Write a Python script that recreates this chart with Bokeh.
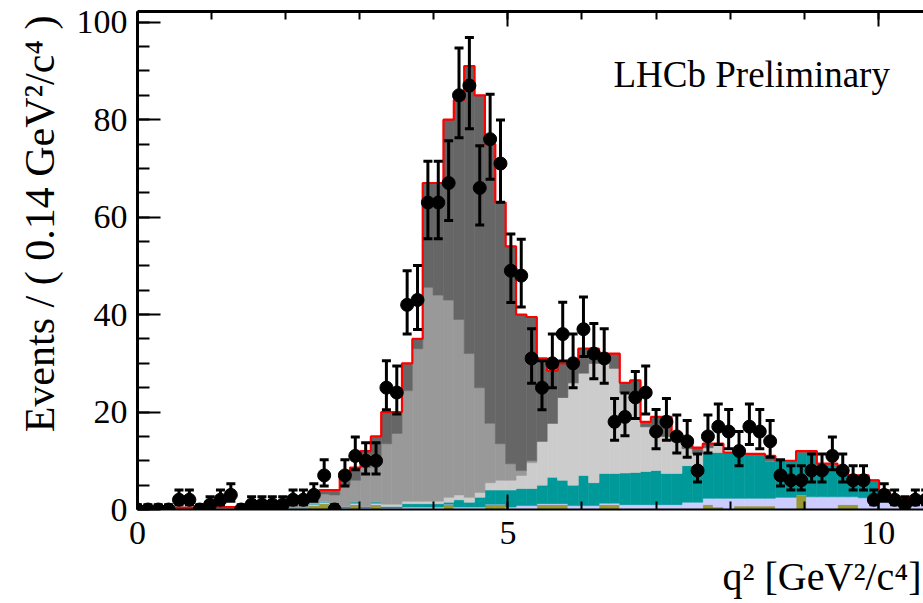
import numpy as np
from bokeh.plotting import figure
from bokeh.models import Range1d, LinearAxis, SingleIntervalTicker, Label, Title, ColumnDataSource
from bokeh.embed import file_html
from bokeh.resources import INLINE

# ---------------- data ----------------
bin_width = 0.14          # GeV^2/c^4
n_bins = 77

data_counts = [0, 0, 0, 0, 2, 2, 0, 1, 2, 3,
               0, 1, 1, 1, 1, 2, 2, 3, 7, 0,
               7, 11, 10, 10, 25, 24, 42, 43, 63, 63,
               67, 85, 87, 66, 76, 71, 49, 48, 31, 25,
               30, 36, 30, 37, 32, 31, 18, 19, 23, 24,
               16, 18, 15, 14, 8, 15, 17, 16, 12, 17,
               16, 14, 7, 6, 6, 8, 8, 11, 8, 6,
               6, 2, 3, 2, 1, 2, 2]

olive = [0, 0, 0, 0, 0, 0, 0, 0, 0, 0,
         0, 0, 0, 0, 0, 0, 0, 0.8, 1.2, 0,
         0, 1, 0, 1, 0, 0, 0, 0, 0, 0,
         1, 0, 0, 0, 1, 1, 0, 0, 0, 1,
         1, 1, 0, 0, 0, 1, 1, 0, 0, 0,
         0, 0, 0, 0, 0, 1, 0.5, 0, 0.7, 0.7,
         0.7, 0.7, 0, 0, 3, 0, 0, 0, 1, 1,
         0, 0, 0, 0, 0, 0, 0]

lavender = [0, 0, 0, 0, 0, 0, 0, 0, 0, 0,
            0, 0, 0, 0, 0, 0, 0, 0.3, 0.3, 0.3,
            0.3, 0.3, 0.3, 0.3, 0.3, 0.3, 0.5, 0.5, 0.5, 0.5,
            0.1, 0.5, 0.5, 0.5, 0.1, 0.1, 0.5, 0.8, 0.8, 0.2,
            0.2, 0.2, 0.8, 0.8, 0.8, 0.3, 0.3, 1.0, 1.0, 1.0,
            1.0, 1.0, 1.0, 1.5, 1.5, 1.3, 1.8, 2.3, 1.6, 1.6,
            1.6, 1.6, 2.5, 2.5, 0, 2.6, 2.6, 2.6, 1.6, 1.6,
            2.4, 2.2, 2.0, 1.5, 1.5, 1.5, 1.5]

teal = [0, 0, 0, 0, 0, 0, 0, 0, 0, 0,
        0, 0, 0, 0, 0, 0.3, 0.3, 0.2, 0.2, 0.3,
        0.3, 0.3, 0.3, 0.3, 0.3, 0.3, 0.7, 0.7, 0.7, 0.7,
        0.4, 1.5, 1.0, 2.0, 2.9, 2.9, 3.5, 3.5, 3.5, 3.8,
        5.4, 4.8, 4.2, 6.2, 4.7, 6.1, 6.1, 6.5, 6.6, 6.8,
        7.0, 6.4, 6.4, 7.5, 7.5, 9.4, 9.4, 9.4, 9.4, 9.1,
        9.1, 7.7, 7.5, 7.5, 8.7, 9.1, 6.8, 6.8, 4.9, 4.4,
        4.6, 3.8, 2.0, 1.0, 0.7, 0.5, 0]

light_gray = [0, 0, 0, 0, 0, 0, 0, 0, 0, 0,
              0, 0, 0, 0, 0, 0, 0, 0, 0, 0,
              0, 0, 0, 0, 0.5, 0.5, 0.5, 0.5, 0.5, 0.5,
              1, 1, 1, 1, 1.5, 2, 2, 2.7, 5.3, 9,
              11.1, 17, 21, 21, 24.5, 22.6, 21.6, 16.5, 16.4, 9.2,
              8.5, 7.6, 6.6, 3.5, 2.5, 1, 1.5, 0, 0, 0,
              0, 0, 0, 0, 0, 0, 0, 0, 0, 0,
              0, 0, 0, 0, 0, 0, 0]

medium_gray = [0.3, 0.3, 0.3, 0.3, 0.4, 0.4, 0.4, 0.5, 0.5, 0.5,
               0.6, 0.6, 0.7, 0.8, 0.9, 1.0, 1.2, 1.2, 1.5, 2.4,
               4.4, 4.4, 8.0, 9.4, 12.4, 14.5, 22.7, 31.3, 43.9, 42.3,
               40.5, 36.0, 29.5, 21.5, 12.2, 7.5, 3.4, 1.0, 0.4, 0,
               0, 0, 0, 0, 0, 0, 0, 0, 0, 0,
               0, 0, 0, 0, 0, 0, 0, 0, 0, 0,
               0, 0, 0, 0, 0, 0, 0, 0, 0, 0,
               0, 0, 0, 0, 0, 0, 0]

dark_gray = [0, 0, 0, 0, 0, 0, 0, 0, 0, 0,
             0, 0, 0, 0, 0, 0, 0, 0.5, 0.8, 1.0,
             2.6, 2.6, 3.4, 4.0, 6.5, 4.4, 5.6, 2.0, 21.4, 23.0,
             37.0, 45.0, 59.0, 60.0, 57.3, 49.5, 44.6, 32.0, 29.5, 17.0,
             10.8, 7.0, 4.0, 5.0, 3.0, 2.0, 3.0, 2.0, 2.5, 1.0,
             2.5, 4.0, 1.0, 2.0, 1.2, 0.8, 0.3, 0, 0, 0,
             0, 1.0, 0, 0, 0.3, 0.3, 0, 0, 0, 0,
             0, 0, 0, 0, 0, 0, 0]

component_names = ["olive", "lavender", "teal", "light_gray", "medium_gray", "dark_gray"]
component_colors = ["#999933", "#ccccff", "#009999", "#cccccc", "#999999", "#666666"]

x_ticks_interval = 5
y_ticks_interval = 20

# ---------------- derived quantities ----------------
idx = np.arange(n_bins)
centers = idx * bin_width
edges = np.append(centers - bin_width / 2, centers[-1] + bin_width / 2)

comps = dict(olive=olive, lavender=lavender, teal=teal, light_gray=light_gray,
             medium_gray=medium_gray, dark_gray=dark_gray)
total = np.sum([np.array(v, dtype=float) for v in comps.values()], axis=0)

src = ColumnDataSource(dict(x=centers, **{k: np.array(v, dtype=float) for k, v in comps.items()}))

n = np.array(data_counts, dtype=float)
err = np.sqrt(n + 0.25)
hi = n + err + 0.5
lo = np.clip(n - (err - 0.5), 0, None)

FONT = "Liberation Serif"

# ---------------- figure ----------------
p = figure(width=923, height=603, output_backend="svg", toolbar_location=None,
           x_range=Range1d(0, 10.61), y_range=Range1d(0, 102.2),
           min_border_left=137, min_border_right=0, min_border_top=11, min_border_bottom=94)
p.grid.visible = False
p.outline_line_color = None
p.background_fill_color = "white"
p.border_fill_color = "white"

p.vbar_stack(component_names, x="x", width=bin_width, source=src,
             fill_color=component_colors, line_color=component_colors, line_width=0.6)

p.step(x=edges, y=np.append(total, total[-1]), mode="after", line_color="#ff0000", line_width=2.2)

p.segment(x0=centers, y0=lo, x1=centers, y1=hi, line_color="black", line_width=3)
p.scatter(x=centers, y=hi, marker="dash", size=9, line_color="black", line_width=3)
p.scatter(x=centers[n > 0], y=lo[n > 0], marker="dash", size=9, line_color="black", line_width=3)
p.scatter(x=centers, y=n, size=13, fill_color="black", line_color="black")

# axes
xa = p.xaxis[0]
xa.ticker = SingleIntervalTicker(interval=x_ticks_interval, num_minor_ticks=5)
ya = p.yaxis[0]
ya.ticker = SingleIntervalTicker(interval=y_ticks_interval, num_minor_ticks=4)

for ax in (xa, ya):
    ax.major_label_text_font = FONT
    ax.major_label_text_font_size = "34px"
    ax.major_label_text_color = "black"
    ax.axis_line_color = "black"
    ax.major_tick_line_color = "black"
    ax.minor_tick_line_color = "black"
    ax.major_tick_out = 0
    ax.minor_tick_out = 0
    ax.major_tick_line_width = 2
    ax.minor_tick_line_width = 2

xa.axis_line_width = 2
xa.major_tick_in = 15
xa.minor_tick_in = 8
xa.major_label_standoff = 12
ya.axis_line_width = 3
ya.major_tick_in = 23
ya.minor_tick_in = 12
ya.major_label_standoff = 10

top = LinearAxis(ticker=SingleIntervalTicker(interval=x_ticks_interval, num_minor_ticks=5),
                 major_label_text_font_size="1px", major_label_text_color=None,
                 major_label_standoff=0,
                 major_tick_in=15, major_tick_out=0, minor_tick_in=8, minor_tick_out=0,
                 axis_line_width=3, major_tick_line_width=2, minor_tick_line_width=2)
p.add_layout(top, "above")

# texts
p.add_layout(Label(x=476, y=435, x_units="screen", y_units="screen", text="LHCb Preliminary",
                   text_font=FONT, text_font_size="37px", text_color="black",
                   text_baseline="alphabetic", text_align="left"))

ytitle = Title(text="Events / ( 0.14 GeV\u00b2/c\u2074 )", align="right", offset=4,
               text_font=FONT, text_font_size="42px", text_font_style="normal",
               text_color="black", standoff=22)
p.add_layout(ytitle, "left")

xtitle = Title(text="q\u00b2 [GeV\u00b2/c\u2074]", align="right", offset=2,
               text_font=FONT, text_font_size="40px", text_font_style="normal",
               text_color="black", standoff=10)
p.add_layout(xtitle, "below")

open("out.html", "w").write(file_html(p, INLINE))
